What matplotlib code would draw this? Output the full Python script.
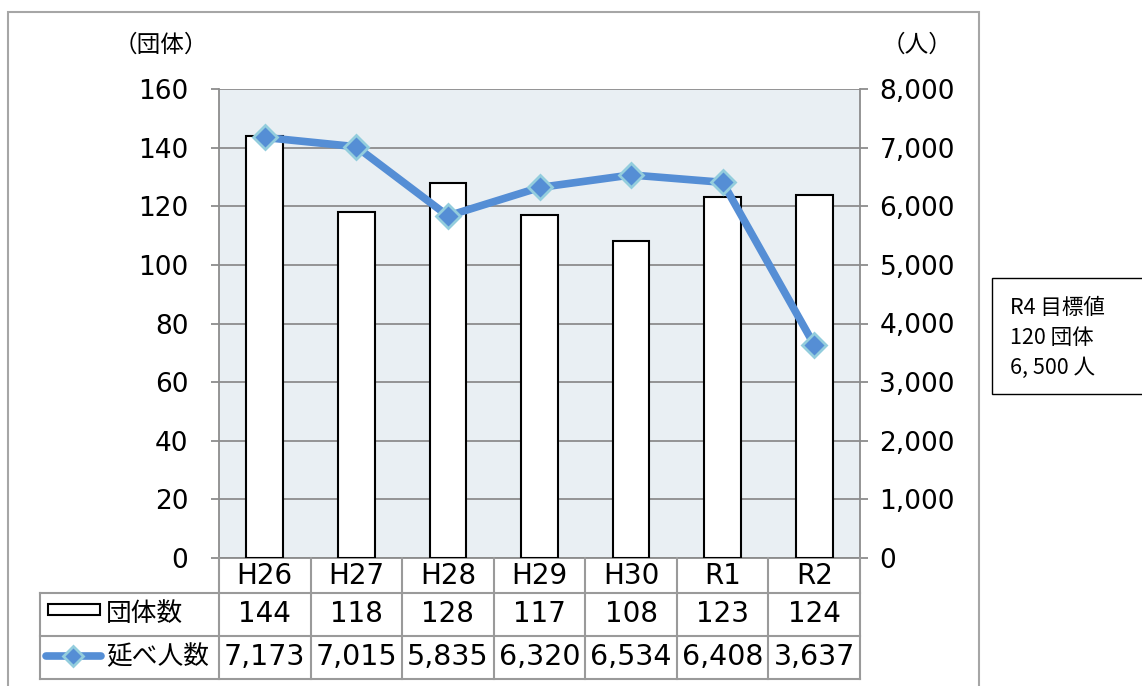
import matplotlib
matplotlib.use('Agg')
import matplotlib.pyplot as plt
import matplotlib.transforms as mtransforms
from matplotlib.lines import Line2D
from matplotlib.patches import Rectangle
from matplotlib.ticker import FuncFormatter

plt.rcParams['font.family'] = ['DejaVu Sans', 'Noto Sans CJK JP']

# data
years = ['H26', 'H27', 'H28', 'H29', 'H30', 'R1', 'R2']
groups = [144, 118, 128, 117, 108, 123, 124]
people = [7173, 7015, 5835, 6320, 6534, 6408, 3637]
row_labels = ['団体数', '延べ人数']
target_lines = ['R4 目標値', '120 団体', '6, 500 人']

W, H = 1142, 686
fig = plt.figure(figsize=(W / 100, H / 100), dpi=100)


def fx(px):
    return px / W


def fy(py):
    return 1 - py / H


bar_col = 'white'
line_col = '#558ED5'
mark_edge = '#93CDDD'
grid_col = '#8C8C8C'
table_col = '#9A9A9A'

ax = fig.add_axes([fx(219), fy(558), fx(860) - fx(219), fy(89) - fy(558)])
ax.set_facecolor('#E9EFF3')
x = list(range(len(years)))
ax.bar(x, groups, width=0.4, color=bar_col, edgecolor='black', linewidth=1.5, zorder=3)
ax.set_xlim(-0.5, len(years) - 0.5)
ax.set_ylim(0, 160)
ax.set_yticks(range(0, 161, 20))
ax.set_xticks([])
ax.grid(axis='y', color=grid_col, linewidth=1.3, zorder=0)
ax.set_axisbelow(True)
for s in ['top', 'right']:
    ax.spines[s].set_visible(False)
for s in ['left', 'bottom']:
    ax.spines[s].set_color(grid_col)
    ax.spines[s].set_linewidth(1.3)
ax.tick_params(axis='y', direction='out', length=6, width=1.3, color=grid_col,
               labelsize=19, pad=16)

ax2 = ax.twinx()
ax2.plot(x, people, color=line_col, lw=5.5, marker='D', ms=12,
         mfc=line_col, mec=mark_edge, mew=2, zorder=4)
ax2.set_ylim(0, 8000)
ax2.set_yticks(range(0, 8001, 1000))
ax2.yaxis.set_major_formatter(FuncFormatter(lambda v, p: f'{int(v):,}'))
for s in ['top', 'left', 'bottom']:
    ax2.spines[s].set_visible(False)
ax2.spines['right'].set_color(grid_col)
ax2.spines['right'].set_linewidth(1.3)
ax2.tick_params(axis='y', direction='out', length=6, width=1.3, color=grid_col,
                labelsize=19, pad=8)

# axis unit labels
fig.text(fx(161), fy(45), '（団体）', ha='center', va='center', fontsize=17,
         family=['Noto Sans CJK JP'])
fig.text(fx(917), fy(45), '（人）', ha='center', va='center', fontsize=17,
         family=['Noto Sans CJK JP'])

# data table below the plot
blend = mtransforms.blended_transform_factory(ax.transData, fig.transFigure)
row_y = [558, 593, 636, 679]
left_px, right_px = 40, 860

for yy in row_y[1:]:
    fig.add_artist(Line2D([fx(left_px), fx(right_px)], [fy(yy), fy(yy)],
                          color=table_col, lw=1.5, transform=fig.transFigure))
fig.add_artist(Line2D([fx(left_px), fx(left_px)], [fy(593), fy(679)],
                      color=table_col, lw=1.5, transform=fig.transFigure))
for i in range(len(years) + 1):
    fig.add_artist(Line2D([i - 0.5, i - 0.5], [fy(558), fy(679)],
                          color=table_col, lw=1.5, transform=blend))

for i, yr in enumerate(years):
    fig.text(i, fy((row_y[0] + row_y[1]) / 2), yr, transform=blend,
             ha='center', va='center', fontsize=20)
    fig.text(i, fy((row_y[1] + row_y[2]) / 2), str(groups[i]), transform=blend,
             ha='center', va='center', fontsize=20)
    fig.text(i, fy((row_y[2] + row_y[3]) / 2), f'{people[i]:,}', transform=blend,
             ha='center', va='center', fontsize=20.5)

# legend keys in table
fig.add_artist(Rectangle((fx(48), fy(615)), fx(100) - fx(48), fy(604) - fy(615),
                         transform=fig.transFigure, fc='white', ec='black', lw=1.5))
fig.add_artist(Line2D([fx(46), fx(101)], [fy(656), fy(656)], color=line_col, lw=5.5,
                      solid_capstyle='round', transform=fig.transFigure))
fig.add_artist(Line2D([fx(73)], [fy(656)], marker='D', ms=10, mfc=line_col,
                      mec=mark_edge, mew=2, transform=fig.transFigure))
fig.text(fx(106), fy(614), row_labels[0], ha='left', va='center', fontsize=18.5,
         family=['Noto Sans CJK JP'])
fig.text(fx(106), fy(657), row_labels[1], ha='left', va='center', fontsize=18.5,
         family=['Noto Sans CJK JP'])

# outer frame
fig.add_artist(Rectangle((fx(8), fy(700)), fx(979) - fx(8), fy(12) - fy(700),
                         transform=fig.transFigure, fc='none', ec='#A6A6A6', lw=1.5))

# target box
fig.add_artist(Rectangle((fx(992), fy(394)), fx(1160) - fx(992), fy(278) - fy(394),
                         transform=fig.transFigure, fc='white', ec='black', lw=1))
for k, t in enumerate(target_lines):
    fig.text(fx(1010), fy(308 + 30 * k), t, ha='left', va='center', fontsize=15.5,
             family=['Noto Sans CJK JP'])

fig.savefig('out.png', dpi=100)
